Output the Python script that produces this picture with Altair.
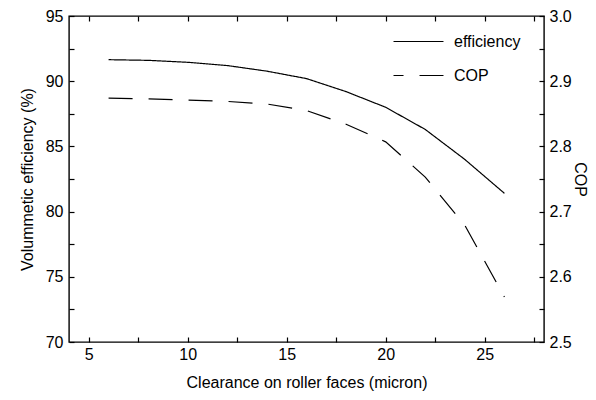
import altair as alt
import pandas as pd

clearance = [6, 8, 10, 12, 14, 16, 18, 20, 22, 24, 26]
efficiency = [91.65, 91.6, 91.45, 91.2, 90.77, 90.2, 89.2, 88.0, 86.3, 84.0, 81.4]
cop = [2.874, 2.873, 2.871, 2.869, 2.865, 2.855, 2.834, 2.807, 2.753, 2.679, 2.569]

x_ticks = [5, 7.5, 10, 12.5, 15, 17.5, 20, 22.5, 25, 27.5]
left_ticks = [70, 72.5, 75, 77.5, 80, 82.5, 85, 87.5, 90, 92.5, 95]
right_ticks = [2.5, 2.55, 2.6, 2.65, 2.7, 2.75, 2.8, 2.85, 2.9, 2.95, 3.0]
series = ["efficiency", "COP"]

df = pd.DataFrame({"clearance": clearance, "efficiency": efficiency, "cop": cop})

FONT = "Liberation Sans"

dash_scale = alt.Scale(domain=series, range=[[1, 0], [24, 16]])
legend = alt.Legend(
    title=None, orient="none", legendX=333, legendY=9,
    symbolType="M-1.58,0H1.58", symbolSize=1000, symbolStrokeWidth=1.2,
    symbolStrokeColor="black", symbolDashOffset=14,
    labelFontSize=16, labelFont=FONT, labelColor="black",
    labelOffset=19, rowPadding=9, padding=0,
)

xs = alt.Scale(domain=[4, 28], nice=False, zero=False)

eff = alt.Chart(df).mark_line(color="black", strokeWidth=1.2).encode(
    x=alt.X("clearance:Q", scale=xs, axis=alt.Axis(
        orient="bottom", values=x_ticks,
        labelExpr="datum.value % 5 == 0 ? datum.label : ''",
        title="Clearance on roller faces (micron)",
        offset=-5, tickSize=5, domain=False, grid=False,
        labelPadding=4, titlePadding=12)),
    y=alt.Y("efficiency:Q", scale=alt.Scale(domain=[70, 95], nice=False, zero=False),
            axis=alt.Axis(orient="left", values=left_ticks,
                          labelExpr="datum.value % 5 == 0 ? datum.label : ''",
                          title="Volummetic efficiency (%)",
                          offset=-5, tickSize=5, domain=False, grid=False,
                          labelPadding=6, titlePadding=10)),
    strokeDash=alt.StrokeDash("s:N", scale=dash_scale, legend=legend),
).transform_calculate(s="'efficiency'")

copl = alt.Chart(df).mark_line(color="black", strokeWidth=1.2).encode(
    x=alt.X("clearance:Q", scale=xs, axis=alt.Axis(
        orient="top", values=x_ticks, labels=False, title=None,
        offset=-5, tickSize=5, domain=False, grid=False)),
    y=alt.Y("cop:Q", scale=alt.Scale(domain=[2.5, 3.0], nice=False, zero=False),
            axis=alt.Axis(orient="right", values=right_ticks,
                          labelExpr="abs(datum.value*10 - round(datum.value*10)) < 0.001 ? format(datum.value, '.1f') : ''",
                          title="COP",
                          offset=-5, tickSize=5, domain=False, grid=False,
                          labelPadding=5, titlePadding=0)),
    strokeDash=alt.StrokeDash("s:N", scale=dash_scale, legend=legend),
).transform_calculate(s="'COP'")

chart = alt.layer(eff, copl).resolve_scale(y="independent").resolve_axis(x="independent").properties(
    width=475, height=326,
    autosize=alt.AutoSizeParams(type="none"),
    padding={"left": 61, "top": 8, "right": 44, "bottom": 50},
).configure(font=FONT).configure_axis(
    labelFontSize=16, titleFontSize=16, labelFont=FONT, titleFont=FONT,
    labelColor="black", titleColor="black", tickColor="black",
    titleFontWeight="normal", tickWidth=1.2,
).configure_view(stroke="black", strokeWidth=1.4)

chart.save("out.html", embed_options={"renderer": "svg", "actions": False})
